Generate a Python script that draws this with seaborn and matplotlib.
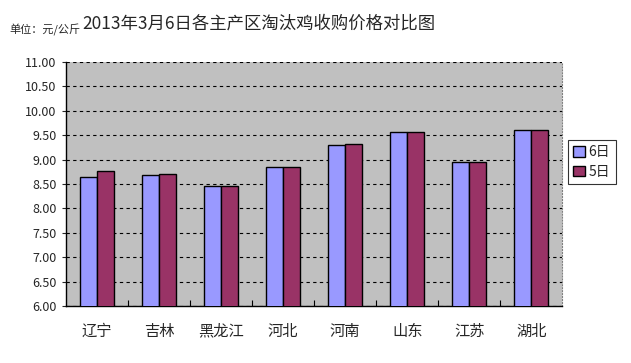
import pandas as pd
import matplotlib
matplotlib.use('Agg')
import matplotlib.pyplot as plt
import seaborn as sns
from matplotlib.ticker import FormatStrFormatter, FixedLocator

# data
regions = ['辽宁', '吉林', '黑龙江', '河北', '河南', '山东', '江苏', '湖北']
price_6 = [8.64, 8.68, 8.45, 8.84, 9.29, 9.56, 8.96, 9.61]
price_5 = [8.76, 8.70, 8.45, 8.84, 9.33, 9.56, 8.96, 9.61]
series = ['6日', '5日']
colors = ['#9999FF', '#993366']

data = pd.DataFrame({
    'region': regions * 2,
    'price': price_6 + price_5,
    'day': [series[0]] * len(regions) + [series[1]] * len(regions),
})

sns.set_style('white')
plt.rcParams['font.family'] = ['Noto Sans CJK SC', 'DejaVu Sans']

fig = plt.figure(figsize=(6.31, 3.63), dpi=100)
ax = fig.add_axes([0.105, 0.157, 0.786, 0.672])
ax.set_facecolor('#C0C0C0')

sns.barplot(data=data, x='region', y='price', hue='day', hue_order=series,
            palette=colors, width=0.55, edgecolor='black', linewidth=1,
            saturation=1, ax=ax, legend=True, zorder=3)

ax.set_ylim(6, 11)
ax.set_xlim(-0.5, len(regions) - 0.5)
ax.set_yticks([6 + 0.5 * i for i in range(11)])
ax.yaxis.set_major_formatter(FormatStrFormatter('%.2f'))
ax.grid(axis='y', color='black', linestyle=(0, (3, 3)), linewidth=0.8, zorder=1)
ax.set_axisbelow(True)

# small ticks between categories, pointing up
ax.xaxis.set_minor_locator(FixedLocator([i + 0.5 for i in range(len(regions) - 1)]))
ax.tick_params(axis='x', which='minor', direction='in', length=4, width=0.8, color='black', bottom=True)
ax.tick_params(axis='x', which='major', length=0, labelsize=11, pad=12)
ax.tick_params(axis='y', which='major', left=True, length=3, width=0.8, labelsize=9, pad=4)

ax.set_xlabel('')
ax.set_ylabel('')

for side in ['left', 'bottom']:
    ax.spines[side].set_color('black')
    ax.spines[side].set_linewidth(1)
ax.spines['top'].set_visible(False)
ax.spines['right'].set_color('#808080')
ax.spines['right'].set_linestyle(':')
ax.spines['right'].set_linewidth(0.8)

handles, labels = ax.get_legend_handles_labels()
ax.legend(handles, labels, loc='upper left', bbox_to_anchor=(0.9, 0.615),
          bbox_transform=fig.transFigure, borderaxespad=0, frameon=True, fancybox=False,
          edgecolor='black', fontsize=10, handlelength=0.8, handleheight=0.8,
          handletextpad=0.3, borderpad=0.4, labelspacing=0.4)
ax.get_legend().get_frame().set_linewidth(0.8)

fig.text(0.41, 0.934, '2013年3月6日各主产区淘汰鸡收购价格对比图', ha='center', va='center',
         fontsize=12.5)
fig.text(0.015, 0.917, '单位：元/公斤', ha='left', va='center', fontsize=8)

fig.savefig('out.png', dpi=100, facecolor='white')
